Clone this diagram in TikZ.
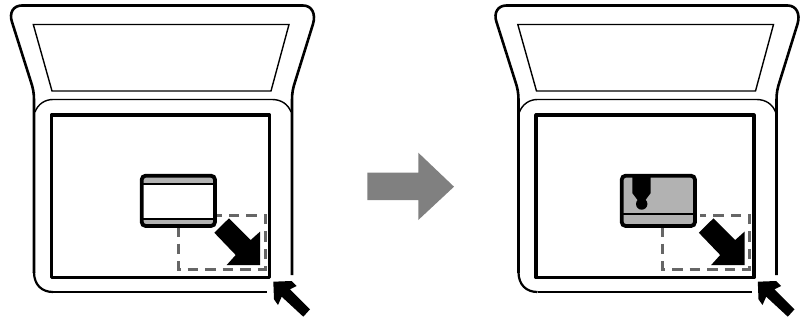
\documentclass[tikz,border=0pt]{standalone}
\tikzset{
  lidline/.style={draw=black,line width=2.6pt,line join=round},
  sideline/.style={draw=black,line width=2.2pt},
  thinline/.style={draw=black,line width=1.4pt},
  platen/.style={draw=black,line width=3.2pt,line join=round},
  docbox/.style={draw=black,line width=3.8pt,rounded corners=4pt},
  dashbox/.style={draw=black!60,line width=3pt,dash pattern=on 10.5pt off 7pt},
  bandfill/.style={fill=black!30},
  pointer/.style={fill=black}
}
\newcommand{\scannerunit}{
  \draw[lidline] (292,275) -- (292,100) .. controls (292,93) and (293,88) .. (295,82)
    -- (313,24) .. controls (316,14) and (312,5.5) .. (303,5.5) -- (22,5.5)
    .. controls (13,5.5) and (9,13) .. (12,22) -- (31,82) .. controls (33,88) and (34,93) .. (34,100)
    -- (34,273);
  \draw[sideline] (34,272) .. controls (34,285) and (42,292) .. (53,292);
  \draw[thinline] (53,292) -- (267,292);
  \draw[thinline] (33.3,24.5) -- (289,24.5) -- (271,91) -- (52,91) -- cycle;
  \draw[thinline] (35,112) .. controls (38,104) and (45,99.5) .. (53,99.5) -- (272,99.5)
    .. controls (281,99.5) and (288,104) .. (291,112);
  \draw[platen] (51.5,115) rectangle (269.5,277.5);
  \draw[dashbox] (178,226) -- (178,269) -- (265,269) -- (265,215) -- (215,215);
  \fill[pointer] (229,218.3) -- (250.7,240) -- (260,231.7) -- (260,265) -- (226.7,265) -- (235.7,255) -- (214.3,232.7) -- cycle;
  \fill[pointer] (273.3,281.7) -- (291.7,281) -- (296.7,286) -- (290,289.3) -- (310,309.3) -- (303.3,316.7) -- (281.7,296.7) -- (278,305) -- (274,299.3) -- cycle;
}
\begin{document}
\begin{tikzpicture}[x=1pt,y=-1pt]
\useasboundingbox (0,0) rectangle (803,321);
\begin{scope}
  \scannerunit
  \path[fill=white,rounded corners=4pt] (141.7,175.7) rectangle (215,226);
  \begin{scope}
    \clip[rounded corners=4pt] (141.7,175.7) rectangle (215,226);
    \fill[bandfill] (141.7,175.7) rectangle (215,184);
    \fill[bandfill] (141.7,219) rectangle (215,226);
    \draw[thinline] (141.7,184) -- (215,184);
    \draw[thinline] (141.7,219) -- (215,219);
  \end{scope}
  \draw[docbox] (141.7,175.7) rectangle (215,226);
\end{scope}
\begin{scope}[xshift=484.5pt]
  \scannerunit
  \path[fill=black!30,rounded corners=4pt] (137.2,175.7) rectangle (210.5,226);
  \draw[thinline] (137.2,214) -- (210.5,214);
  \fill[pointer] (147.8,175.7) -- (166.2,175.7) -- (166.2,193) -- (161,200) -- (153,200) -- (147.8,193) -- cycle;
  \fill[pointer] (157.2,204) circle (5.7pt);
  \draw[docbox] (137.2,175.7) rectangle (210.5,226);
\end{scope}
\fill[black!50] (367.3,172.7) -- (418.3,172.7) -- (418.3,152.7) -- (454,186.7) -- (418.3,220) -- (418.3,200) -- (367.3,200) -- cycle;
\end{tikzpicture}
\end{document}
